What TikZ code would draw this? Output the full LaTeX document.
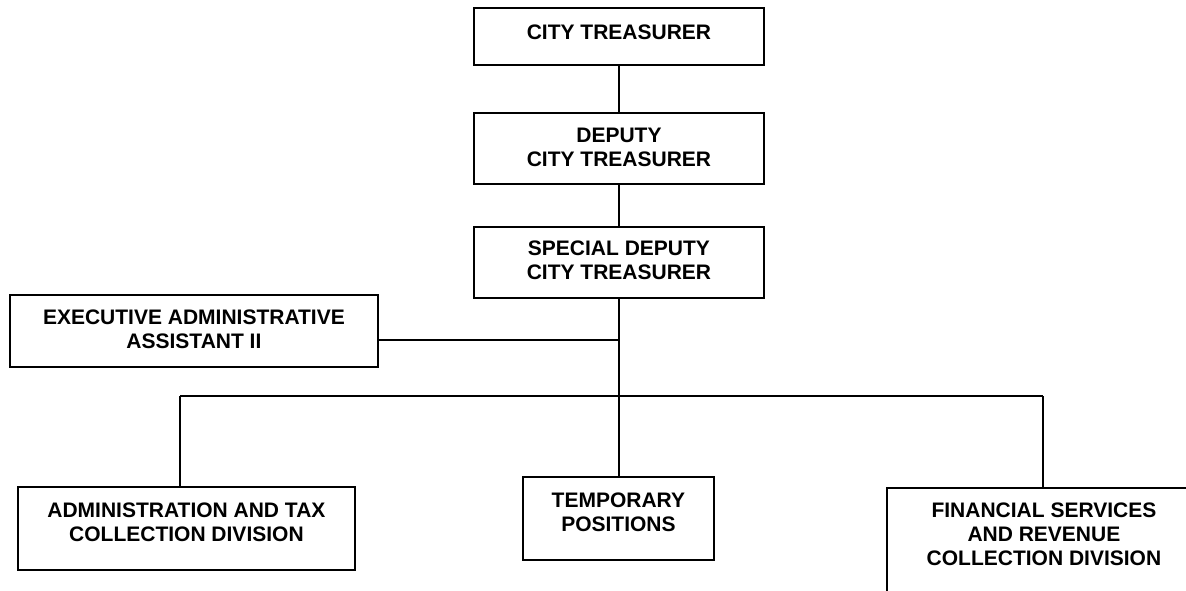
\documentclass[tikz,border=0pt]{standalone}
\usepackage{fontspec}
\setmainfont{Liberation Sans}
\begin{document}
\begin{tikzpicture}[x=0.75pt,y=-0.75pt,
  box/.style={draw, line width=1.4pt, rectangle, inner sep=0pt, anchor=north west},
  lbl/.style={align=center, inner sep=0pt, anchor=north, font=\fontsize{15.75}{18}\selectfont\bfseries},
  link/.style={line width=1.4pt}]
\path[use as bounding box] (0,0) rectangle (1186,590);
% The three boxes down the middle
\node[box, minimum width=217.5pt, minimum height=42.75pt] (treas) at (473,7) {};
\node[box, minimum width=217.5pt, minimum height=53.25pt] (deputy) at (473,112) {};
\node[box, minimum width=217.5pt, minimum height=53.25pt] (special) at (473,226) {};
\node[lbl] (treas-t) at ([yshift=-13.5pt]treas.north) {CITY TREASURER};
\node[lbl] (deputy-t) at ([yshift=-12pt]deputy.north) {DEPUTY\\CITY TREASURER};
\node[lbl] (special-t) at ([yshift=-11.25pt]special.north) {SPECIAL DEPUTY\\CITY TREASURER};
% Staff box off to the side
\node[box, minimum width=276pt, minimum height=54pt] (exec) at (9,294) {};
\node[lbl] (exec-t) at ([yshift=-12pt]exec.north) {EXECUTIVE ADMINISTRATIVE\\ASSISTANT II};
% Bottom row; the right one runs off the page
\node[box, minimum width=252.75pt, minimum height=62.25pt] (admin) at (17,486) {};
\node[box, minimum width=143.25pt, minimum height=62.25pt] (temp) at (522,476) {};
\node[box, minimum width=235.5pt, minimum height=82.5pt] (fin) at (886,487) {};
\node[lbl] (admin-t) at ([yshift=-12.75pt]admin.north) {ADMINISTRATION AND TAX\\COLLECTION DIVISION};
\node[lbl] (temp-t) at ([yshift=-12.75pt]temp.north) {TEMPORARY\\POSITIONS};
\node[lbl] (fin-t) at ([yshift=-12pt]fin.north) {FINANCIAL SERVICES\\AND REVENUE\\COLLECTION DIVISION};
% Then the connecting lines
\coordinate (ea) at (618,340);
\coordinate (busl) at (180,396);
\coordinate (busr) at (1043,396);
\draw[link] (treas.south) -- (deputy.north);
\draw[link] (deputy.south) -- (special.north);
\draw[link] (special.south) -- (special.south |- temp.north);
\draw[link] (ea -| exec.east) -- (ea);
\draw[link] (busl) -- (busr);
\draw[link] (busl) -- (busl |- admin.north);
\draw[link] (busr) -- (busr |- fin.north);
\end{tikzpicture}
\end{document}
